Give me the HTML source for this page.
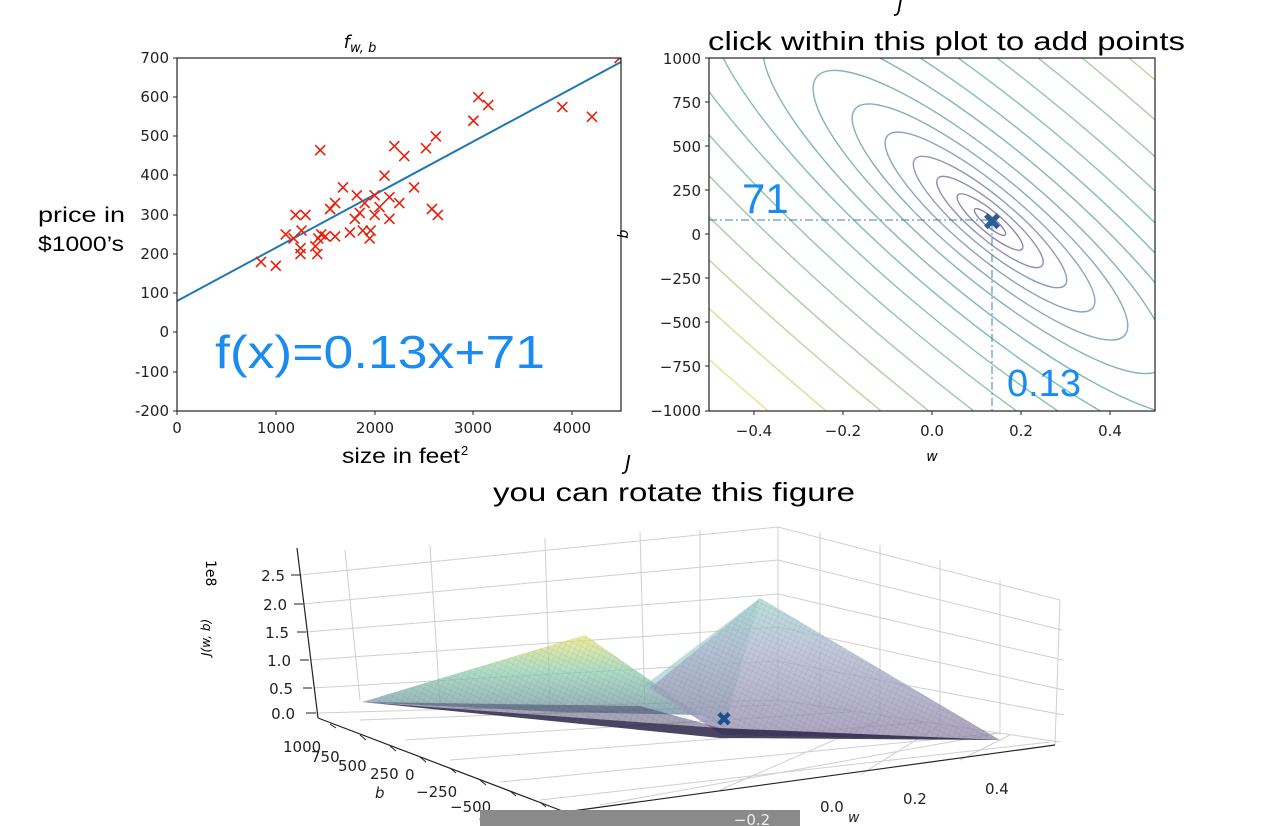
<!DOCTYPE html>
<html><head><meta charset="utf-8"><style>
html,body{margin:0;padding:0;background:#fff;overflow:hidden}
svg{display:block;font-family:"DejaVu Sans","Liberation Sans",sans-serif}
</style></head><body>
<svg width="1284" height="826" viewBox="0 0 1284 826" xmlns="http://www.w3.org/2000/svg">
<defs>
<clipPath id="cr"><rect x="709" y="58" width="446" height="353"/></clipPath>
<clipPath id="cl"><rect x="177" y="58" width="444" height="353"/></clipPath>
<linearGradient id="gy" x1="0" y1="0" x2="0" y2="1"><stop offset="0" stop-color="#ece679"/><stop offset="0.45" stop-color="#93d0b2"/><stop offset="1" stop-color="#6e8fa2"/></linearGradient>
<linearGradient id="gb" x1="0" y1="0" x2="0" y2="1"><stop offset="0" stop-color="#a6d6d0"/><stop offset="0.35" stop-color="#afb9d2"/><stop offset="1" stop-color="#948aac"/></linearGradient>
<pattern id="mesh" width="5" height="5" patternUnits="userSpaceOnUse" patternTransform="rotate(25)"><path d="M0 0H5M0 0V5" stroke="#444" stroke-width="0.4" opacity="0.35"/></pattern>
</defs>

<!-- LEFT PLOT -->
<text x="360" y="48" font-size="18" font-style="italic" text-anchor="middle">f<tspan font-size="13" dy="4">w, b</tspan></text>
<g clip-path="url(#cl)">
<line x1="177" y1="301" x2="621" y2="62" stroke="#1f77b4" stroke-width="2"/>
<g stroke="#e8200c" stroke-width="1.6" id="pts"></g>
</g>
<rect x="177" y="58" width="444" height="353" fill="none" stroke="#222" stroke-width="1.2"/>
<g font-size="15" fill="#222" text-anchor="end">
<text x="169" y="63">700</text><text x="169" y="102">600</text><text x="169" y="141">500</text><text x="169" y="180">400</text><text x="169" y="220">300</text><text x="169" y="259">200</text><text x="169" y="298">100</text><text x="169" y="337">0</text><text x="169" y="377">-100</text><text x="169" y="416">-200</text>
</g>
<g stroke="#222"><line x1="173" y1="58" x2="177" y2="58"/><line x1="173" y1="97" x2="177" y2="97"/><line x1="173" y1="136" x2="177" y2="136"/><line x1="173" y1="175" x2="177" y2="175"/><line x1="173" y1="215" x2="177" y2="215"/><line x1="173" y1="254" x2="177" y2="254"/><line x1="173" y1="293" x2="177" y2="293"/><line x1="173" y1="332" x2="177" y2="332"/><line x1="173" y1="372" x2="177" y2="372"/><line x1="173" y1="411" x2="177" y2="411"/>
<line x1="177" y1="411" x2="177" y2="415"/><line x1="276" y1="411" x2="276" y2="415"/><line x1="375" y1="411" x2="375" y2="415"/><line x1="473" y1="411" x2="473" y2="415"/><line x1="572" y1="411" x2="572" y2="415"/></g>
<g font-size="15" fill="#222" text-anchor="middle">
<text x="177" y="433">0</text><text x="276" y="433">1000</text><text x="375" y="433">2000</text><text x="473" y="433">3000</text><text x="572" y="433">4000</text>
</g>
<text x="342" y="463" font-size="21" font-family="Liberation Sans,sans-serif" textLength="118" lengthAdjust="spacingAndGlyphs">size in feet</text><text x="461" y="455" font-size="13" font-family="Liberation Sans,sans-serif">2</text>
<text x="38" y="222" font-size="21" font-family="Liberation Sans,sans-serif" textLength="87" lengthAdjust="spacingAndGlyphs">price in</text>
<text x="38" y="251" font-size="21" font-family="Liberation Sans,sans-serif" textLength="86" lengthAdjust="spacingAndGlyphs">$1000’s</text>
<text x="215" y="368" font-size="46" fill="#1a8cf0" font-family="Liberation Sans,sans-serif" textLength="330" lengthAdjust="spacingAndGlyphs">f(x)=0.13x+71</text>

<!-- RIGHT PLOT -->
<text x="900" y="12" font-size="20" font-style="italic" text-anchor="middle">J</text>
<text x="708" y="50" font-size="26" font-family="Liberation Sans,sans-serif" textLength="477" lengthAdjust="spacingAndGlyphs">click within this plot to add points</text>
<g clip-path="url(#cr)" fill="none" stroke-width="1.4" id="cont"></g>
<g stroke="#3b7fb5" stroke-width="1" stroke-dasharray="8,3,2,3" fill="none">
<line x1="709" y1="220" x2="990" y2="220"/><line x1="992" y1="222" x2="992" y2="411"/></g>
<text x="992" y="230" font-size="24" font-weight="bold" fill="#2a5f96" text-anchor="middle">✖</text>
<rect x="709" y="58" width="446" height="353" fill="none" stroke="#222" stroke-width="1.2"/>
<g stroke="#222"><line x1="705" y1="58" x2="709" y2="58"/><line x1="705" y1="102" x2="709" y2="102"/><line x1="705" y1="146" x2="709" y2="146"/><line x1="705" y1="190" x2="709" y2="190"/><line x1="705" y1="234" x2="709" y2="234"/><line x1="705" y1="278" x2="709" y2="278"/><line x1="705" y1="322" x2="709" y2="322"/><line x1="705" y1="366" x2="709" y2="366"/><line x1="705" y1="411" x2="709" y2="411"/>
<line x1="754" y1="411" x2="754" y2="415"/><line x1="843" y1="411" x2="843" y2="415"/><line x1="932" y1="411" x2="932" y2="415"/><line x1="1021" y1="411" x2="1021" y2="415"/><line x1="1110" y1="411" x2="1110" y2="415"/></g>
<g font-size="15" fill="#222" text-anchor="end">
<text x="701" y="64">1000</text><text x="701" y="108">750</text><text x="701" y="152">500</text><text x="701" y="196">250</text><text x="701" y="240">0</text><text x="701" y="284">−250</text><text x="701" y="328">−500</text><text x="701" y="372">−750</text><text x="701" y="416">−1000</text>
</g>
<g font-size="15" fill="#222" text-anchor="middle">
<text x="754" y="436">−0.4</text><text x="843" y="436">−0.2</text><text x="932" y="436">0.0</text><text x="1021" y="436">0.2</text><text x="1110" y="436">0.4</text>
</g>
<text x="932" y="461" font-size="14" font-style="italic" text-anchor="middle">w</text>
<text x="0" y="0" font-size="14" font-style="italic" transform="translate(628,234) rotate(-90)" text-anchor="middle">b</text>
<text x="742" y="213" font-size="42" fill="#1a8cf0" font-family="Liberation Sans,sans-serif">71</text>
<text x="1007" y="396" font-size="38" fill="#1a8cf0" font-family="Liberation Sans,sans-serif">0.13</text>

<!-- 3D PLOT -->
<text x="628" y="470" font-size="20" font-style="italic" text-anchor="middle">J</text>
<text x="493" y="501" font-size="26" font-family="Liberation Sans,sans-serif" textLength="362" lengthAdjust="spacingAndGlyphs">you can rotate this figure</text>
<g stroke="#cfcfcf" stroke-width="1" fill="none">
<line x1="345" y1="550" x2="360" y2="700"/><line x1="430" y1="545" x2="440" y2="705"/><line x1="545" y1="538" x2="550" y2="710"/><line x1="640" y1="532" x2="645" y2="712"/><line x1="700" y1="530" x2="700" y2="715"/><line x1="778" y1="527" x2="778" y2="705"/>
<line x1="820" y1="532" x2="820" y2="710"/><line x1="880" y1="545" x2="880" y2="720"/><line x1="940" y1="560" x2="940" y2="725"/><line x1="1000" y1="580" x2="1000" y2="735"/><line x1="1060" y1="600" x2="1055" y2="745"/>
<polyline points="300,575 778,527 1060,600"/><polyline points="303,604 778,560 1062,630"/><polyline points="306,632 778,594 1063,660"/><polyline points="310,660 778,627 1064,690"/><polyline points="313,688 778,661 1064,715"/><polyline points="318,713 778,700 1060,742"/>
<line x1="360" y1="720" x2="778" y2="705"/><line x1="405" y1="740" x2="850" y2="712"/><line x1="450" y1="760" x2="930" y2="722"/><line x1="500" y1="782" x2="1000" y2="733"/><line x1="540" y1="800" x2="1050" y2="742"/>
<line x1="600" y1="805" x2="1000" y2="733"/><line x1="720" y1="790" x2="880" y2="720"/><line x1="860" y1="775" x2="940" y2="725"/><line x1="960" y1="760" x2="1010" y2="735"/>
</g>
<g stroke="#222" stroke-width="1.2" fill="none">
<line x1="297" y1="548" x2="318" y2="718"/>
<line x1="318" y1="718" x2="565" y2="812"/>
<line x1="565" y1="812" x2="1055" y2="745"/>
</g>
<g stroke="#222"><line x1="291" y1="575" x2="300" y2="575"/><line x1="294" y1="604" x2="303" y2="604"/><line x1="297" y1="632" x2="306" y2="632"/><line x1="300" y1="660" x2="309" y2="660"/><line x1="303" y1="688" x2="312" y2="688"/><line x1="306" y1="713" x2="316" y2="713"/>
<line x1="330" y1="724" x2="336" y2="728"/><line x1="360" y1="735" x2="366" y2="740"/><line x1="390" y1="746" x2="396" y2="751"/><line x1="420" y1="757" x2="426" y2="762"/><line x1="450" y1="768" x2="456" y2="773"/><line x1="480" y1="780" x2="486" y2="785"/><line x1="510" y1="791" x2="516" y2="796"/><line x1="540" y1="802" x2="546" y2="807"/></g>
<g font-size="15" fill="#222" text-anchor="end">
<text x="285" y="581">2.5</text><text x="287" y="610">2.0</text><text x="289" y="638">1.5</text><text x="291" y="666">1.0</text><text x="293" y="694">0.5</text><text x="295" y="719">0.0</text>
</g>
<text font-size="14" transform="translate(206,560) rotate(90)">1e8</text>
<text font-size="12" font-style="italic" transform="translate(210,656) rotate(-90)">J(w, b)</text>
<!-- surface -->
<polygon points="362,702 585,635 700,715 560,712" fill="url(#gy)" opacity="0.75"/>
<polygon points="760,598 645,685 700,715 724,728" fill="#86c2bb" opacity="0.55"/>
<polygon points="760,598 1000,740 722,735 650,688" fill="url(#gb)" opacity="0.78"/>
<polygon points="362,702 585,635 700,715 650,688 760,598 1000,740 722,735" fill="url(#mesh)"/>
<polygon points="362,702 720,728 1000,740 720,738" fill="#2a2548" opacity="0.85"/>
<polygon points="362,702 640,706 720,728" fill="#3a3560" opacity="0.45"/>
<text x="724" y="726" font-size="20" font-weight="bold" fill="#1f4f8f" text-anchor="middle">✖</text>
<g font-size="15" fill="#222">
<text x="283" y="752">1000</text><text x="311" y="762">750</text><text x="338" y="771">500</text><text x="370" y="779">250</text><text x="405" y="780">0</text><text x="416" y="797">−250</text><text x="450" y="812">−500</text><text x="478" y="824">−750</text>
<text x="375" y="798" font-style="italic">b</text>
<text x="820" y="812">0.0</text><text x="848" y="822" font-style="italic" font-size="14">w</text>
<text x="903" y="804">0.2</text><text x="985" y="794">0.4</text>
</g>
<rect x="480" y="810" width="320" height="16" fill="#8a8a8a"/>
<text x="752" y="825" font-size="15" fill="#eee" text-anchor="middle">−0.2</text>

<script>
(function(){
var ns="http://www.w3.org/2000/svg";
var d=[[850,180],[1000,170],[1100,250],[1200,300],[1180,240],[1250,200],[1250,215],[1260,260],[1300,300],[1400,220],[1420,200],[1430,240],[1450,465],[1460,250],[1500,245],[1550,315],[1600,330],[1600,245],[1680,370],[1750,255],[1800,290],[1820,350],[1850,305],[1880,260],[1900,330],[1950,240],[1960,260],[2000,300],[2000,350],[2050,320],[2100,400],[2150,345],[2150,290],[2200,475],[2250,330],[2300,450],[2400,370],[2520,470],[2580,315],[2620,500],[2640,300],[3000,540],[3050,600],[3150,580],[3900,575],[4200,550],[4480,700]];
var g=document.getElementById('pts');
d.forEach(function(p){var x=177+p[0]*0.0988,y=58+(700-p[1])*0.3922,s=5;
var pa=document.createElementNS(ns,'path');pa.setAttribute('d','M'+(x-s)+' '+(y-s)+'L'+(x+s)+' '+(y+s)+'M'+(x-s)+' '+(y+s)+'L'+(x+s)+' '+(y-s));g.appendChild(pa);});
var c=document.getElementById('cont');
var sizes=[20,42,68,98,134,176,226,290,360,440,530,630,740,860,1000,1150];
var cols=['#5b4a8b','#5e5590','#5f6296','#5e7199','#587e9c','#52899d','#4e939c','#4a9b9a','#4aa396','#51aa91','#5cb18b','#6db784','#82bd7c','#a0c670','#c4d264','#dcda5c'];
sizes.forEach(function(a,i){var e=document.createElementNS(ns,'ellipse');e.setAttribute('cx',990);e.setAttribute('cy',222);e.setAttribute('rx',a);e.setAttribute('ry',a*0.25);e.setAttribute('transform','rotate(40 990 222)');e.setAttribute('stroke',cols[i]);e.setAttribute('opacity','0.7');c.appendChild(e);});
})();
</script>
</svg>
</body></html>
